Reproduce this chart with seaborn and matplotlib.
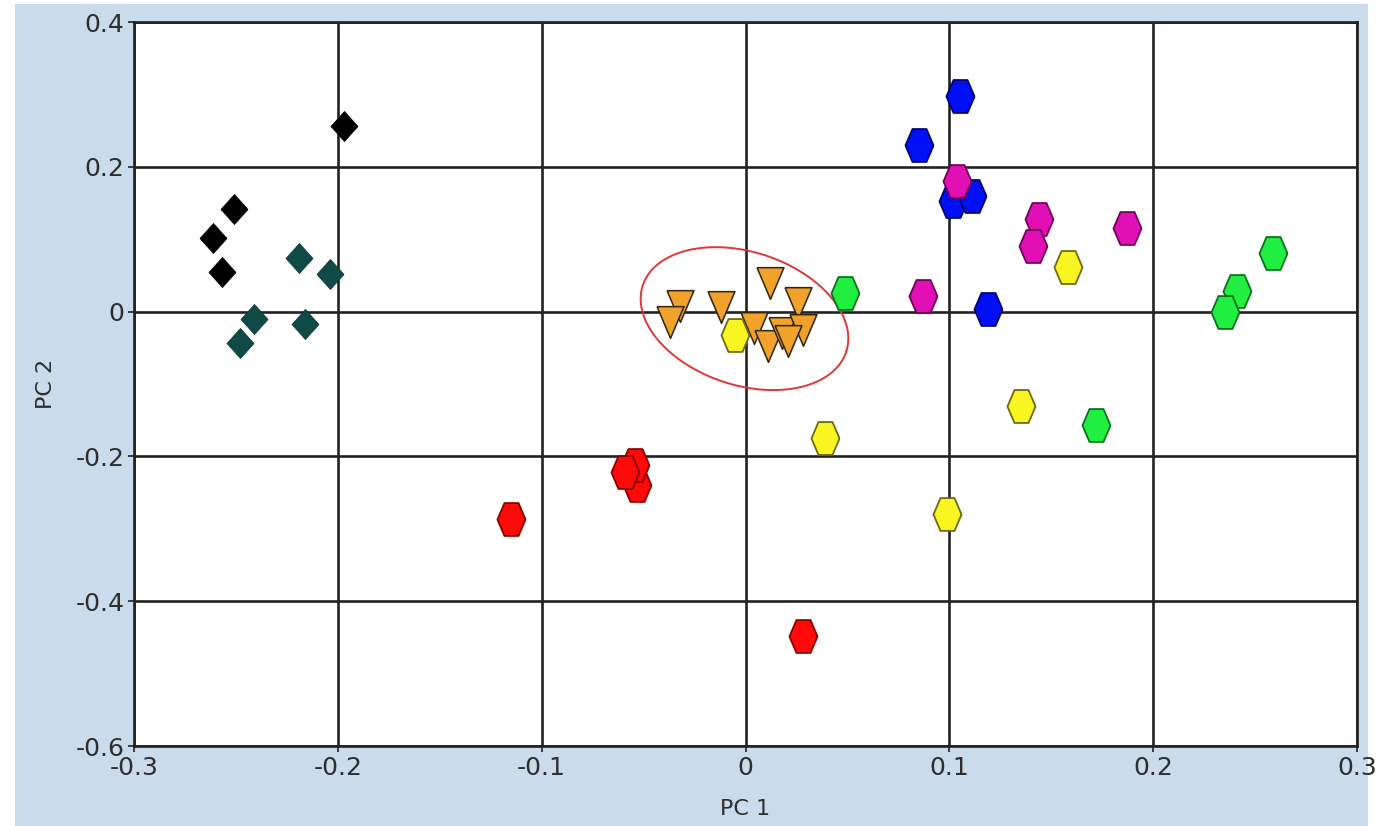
import numpy as np
import pandas as pd
import matplotlib
matplotlib.use("Agg")
import matplotlib.pyplot as plt
from matplotlib.patches import Rectangle
import seaborn as sns

# ---- data ----
black_x = [-0.261, -0.251, -0.257, -0.197]
black_y = [0.102, 0.142, 0.055, 0.257]

teal_x = [-0.219, -0.204, -0.241, -0.248, -0.216]
teal_y = [0.074, 0.052, -0.010, -0.043, -0.017]

blue_x = [0.105, 0.085, 0.102, 0.111, 0.119]
blue_y = [0.298, 0.230, 0.153, 0.160, 0.004]

magenta_x = [0.104, 0.144, 0.141, 0.187, 0.087]
magenta_y = [0.181, 0.128, 0.091, 0.116, 0.021]

green_x = [0.049, 0.259, 0.241, 0.235, 0.172]
green_y = [0.026, 0.081, 0.029, -0.001, -0.156]

yellow_x = [-0.005, 0.158, 0.135, 0.039, 0.099]
yellow_y = [-0.033, 0.062, -0.131, -0.174, -0.280]

red_x = [-0.115, -0.053, -0.054, -0.059, 0.028]
red_y = [-0.286, -0.239, -0.212, -0.222, -0.448]

orange_x = [-0.032, -0.037, -0.012, 0.012, 0.026, 0.004, 0.011, 0.018, 0.028, 0.021]
orange_y = [0.008, -0.015, 0.007, 0.039, 0.012, -0.022, -0.048, -0.030, -0.026, -0.040]

x_ticks = [-0.3, -0.2, -0.1, 0, 0.1, 0.2, 0.3]
x_tick_labels = ["-0.3", "-0.2", "-0.1", "0", "0.1", "0.2", "0.3"]
y_ticks = [-0.6, -0.4, -0.2, 0, 0.2, 0.4]
y_tick_labels = ["-0.6", "-0.4", "-0.2", "0", "0.2", "0.4"]

# ---- marker shapes (slightly tall, as in the reference) ----
hexagon = [(1, 0), (0.5, 1.17), (-0.5, 1.17), (-1, 0), (-0.5, -1.17), (0.5, -1.17), (1, 0)]
diamond = [(0.9, 0), (0, 1), (-0.9, 0), (0, -1), (0.9, 0)]
tri_down = [(-0.85, 1), (0.85, 1), (0, -1), (-0.85, 1)]

groups = [
    # name, xs, ys, marker, face, edge, size, lw
    ("orange", orange_x, orange_y, tri_down, "#F0A22A", "#2e2410", 520, 1.1),
    ("yellow", yellow_x, yellow_y, hexagon, "#F8F520", "#6d6a10", 560, 1.3),
    ("black", black_x, black_y, diamond, "#000000", "#000000", 470, 0.5),
    ("teal", teal_x, teal_y, diamond, "#0F4A46", "#0a3532", 470, 0.5),
    ("blue", blue_x, blue_y, hexagon, "#0010F5", "#000070", 560, 1.3),
    ("magenta", magenta_x, magenta_y, hexagon, "#E010B4", "#700058", 560, 1.3),
    ("green", green_x, green_y, hexagon, "#20EE40", "#0b7020", 560, 1.3),
    ("red", red_x, red_y, hexagon, "#FF0A0A", "#8a0000", 560, 1.3),
]

rows = []
for name, xs, ys, *_ in groups:
    for xv, yv in zip(xs, ys):
        rows.append({"group": name, "PC1": xv, "PC2": yv})
df = pd.DataFrame(rows)

sns.set_theme(style="white")
plt.rcParams["font.family"] = ["DejaVu Sans"]

W, H = 1378, 826
fig = plt.figure(figsize=(W / 100, H / 100), dpi=100)
fig.patch.set_facecolor("white")
bg = Rectangle((15 / W, 0), (1368 - 15) / W, 1 - 4 / H,
               transform=fig.transFigure, facecolor="#CADCEC",
               edgecolor="none", zorder=-10)
fig.add_artist(bg)

left, right, bottom, top = 134 / W, 1357 / W, (H - 746) / H, (H - 22) / H
ax = fig.add_axes([left, bottom, right - left, top - bottom])
ax.set_zorder(5)
ax.set_facecolor("white")
ax.set_xlim(-0.3, 0.3)
ax.set_ylim(-0.6, 0.4)

# ellipse around the orange cluster (drawn in screen-isotropic space)
sx = (right - left) * W / 0.6
sy = (top - bottom) * H / 1.0
cx, cy = -0.0005, -0.0097
a, b, th = 107, 66.6, np.deg2rad(-18)
t = np.linspace(0, 2 * np.pi, 300)
ex = cx + (a * np.cos(t) * np.cos(th) - b * np.sin(t) * np.sin(th)) / sx
ey = cy + (a * np.cos(t) * np.sin(th) + b * np.sin(t) * np.cos(th)) / sy
ax.plot(ex, ey, color="#E03838", lw=1.4, zorder=2)

for name, xs, ys, marker, face, edge, size, lw in groups:
    sub = df[df["group"] == name]
    sns.scatterplot(data=sub, x="PC1", y="PC2", marker=marker, color=face,
                    edgecolor=edge, s=size, linewidth=lw, ax=ax, zorder=3,
                    legend=False)

ax.set_xticks(x_ticks)
ax.set_xticklabels(x_tick_labels)
ax.set_yticks(y_ticks)
ax.set_yticklabels(y_tick_labels)
ax.grid(True, color="#222222", lw=1.9, zorder=1)
ax.set_axisbelow(True)
for sp in ax.spines.values():
    sp.set_visible(True)
    sp.set_color("#222222")
    sp.set_linewidth(1.9)
ax.tick_params(axis="both", which="major", direction="out", length=4, width=1.2,
               color="#222222", labelsize=18, labelcolor="#2e2e2e", pad=3,
               bottom=True, left=True)
ax.set_xlabel("PC 1", fontsize=16, color="#2e2e2e", labelpad=14)
ax.set_ylabel("PC 2", fontsize=16, color="#2e2e2e", labelpad=14)

fig.savefig("out.png", dpi=100, facecolor=fig.get_facecolor())
